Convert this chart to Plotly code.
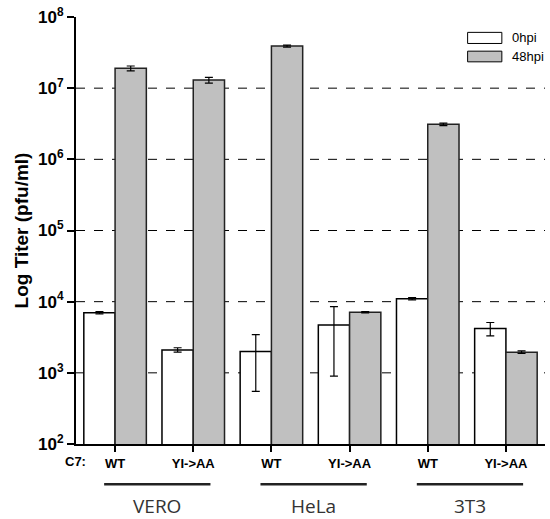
import plotly.graph_objects as go

categories = ["VERO WT", "VERO YI->AA", "HeLa WT", "HeLa YI->AA", "3T3 WT", "3T3 YI->AA"]
tick_labels = ["WT", "YI->AA", "WT", "YI->AA", "WT", "YI->AA"]
hpi0 = [7000, 2100, 2000, 4700, 11000, 4200]
hpi0_err = [250, 150, 1450, 3800, 400, 900]
hpi48 = [1.9e7, 1.3e7, 3.9e7, 7100, 3.1e6, 1950]
hpi48_err = [1.5e6, 1.2e6, 1.2e6, 150, 1.2e5, 80]
groups = ["VERO", "HeLa", "3T3"]
group_members = [(0, 1), (2, 3), (4, 5)]
y_ticks = [100, 1000, 1e4, 1e5, 1e6, 1e7, 1e8]
y_ticktext = ["<b>10<sup>2</sup></b>", "<b>10<sup>3</sup></b>", "<b>10<sup>4</sup></b>",
              "<b>10<sup>5</sup></b>", "<b>10<sup>6</sup></b>", "<b>10<sup>7</sup></b>",
              "<b>10<sup>8</sup></b>"]
grid_vals = [1000, 1e4, 1e5, 1e6, 1e7]

fig = go.Figure()
fig.add_trace(go.Bar(
    x=categories, y=hpi0, name="0hpi",
    marker=dict(color="white", line=dict(color="black", width=1.5)),
    error_y=dict(type="data", array=hpi0_err, color="black", thickness=1.2, width=4),
    showlegend=False,
))
fig.add_trace(go.Bar(
    x=categories, y=hpi48, name="48hpi",
    marker=dict(color="#c0c0c0", line=dict(color="#222222", width=1.5)),
    error_y=dict(type="data", array=hpi48_err, color="black", thickness=1.2, width=4),
    showlegend=False,
))

shapes = []
for g in grid_vals:
    shapes.append(dict(type="line", xref="paper", yref="y", x0=0, x1=1, y0=g, y1=g,
                       line=dict(color="black", width=1, dash="dash"), layer="below"))
# group underlines
for (a, b) in group_members:
    shapes.append(dict(type="line", xref="x", yref="paper", x0=a - 0.14, x1=b + 0.22,
                       y0=-0.094, y1=-0.094, line=dict(color="#222222", width=2.5)))
# manual legend
shapes.append(dict(type="rect", xref="paper", yref="paper", x0=0.835, x1=0.908, y0=0.938, y1=0.964,
                   line=dict(color="black", width=1), fillcolor="white"))
shapes.append(dict(type="rect", xref="paper", yref="paper", x0=0.835, x1=0.908, y0=0.895, y1=0.920,
                   line=dict(color="black", width=1), fillcolor="#c0c0c0"))

annotations = [
    dict(text="0hpi", xref="paper", yref="paper", x=0.925, y=0.951, xanchor="left", yanchor="middle",
         showarrow=False, font=dict(family="Liberation Sans Narrow, Arial", size=13, color="black")),
    dict(text="48hpi", xref="paper", yref="paper", x=0.925, y=0.907, xanchor="left", yanchor="middle",
         showarrow=False, font=dict(family="Liberation Sans Narrow, Arial", size=13, color="black")),
    dict(text="<b>C7:</b>", xref="paper", yref="paper", x=0.0256, y=-0.041, xanchor="right",
         yanchor="middle", showarrow=False,
         font=dict(family="Liberation Sans Narrow, Arial", size=13, color="black")),
]
for gname, (a, b) in zip(groups, group_members):
    annotations.append(dict(text=gname, xref="x", yref="paper", x=(a + b) / 2 + 0.04, y=-0.145,
                            xanchor="center", yanchor="middle", showarrow=False,
                            font=dict(family="Open Sans", size=19, color="#333333")))

fig.update_layout(
    width=550, height=519,
    margin=dict(l=76, r=5, t=17, b=75),
    plot_bgcolor="white", paper_bgcolor="white",
    barmode="group", bargap=0.2, bargroupgap=0,
    shapes=shapes, annotations=annotations,
    xaxis=dict(
        type="category", categoryorder="array", categoryarray=categories,
        tickvals=categories, ticktext=["<b>%s</b>" % t for t in tick_labels],
        range=[-0.5, 5.5],
        showline=True, linecolor="black", linewidth=2,
        ticks="outside", ticklen=6, tickwidth=1.5, tickcolor="black",
        tickfont=dict(family="Liberation Sans Narrow, Arial", size=13, color="black"),
        showgrid=False,
    ),
    yaxis=dict(
        type="log", range=[2, 8],
        tickvals=y_ticks, ticktext=y_ticktext,
        showline=True, linecolor="black", linewidth=2,
        ticks="outside", ticklen=7, tickwidth=1.5, tickcolor="black",
        tickfont=dict(family="Liberation Sans, Arial", size=17, color="black"),
        showgrid=False, zeroline=False,
        title=dict(text="<b>Log Titer (pfu/ml)</b>", standoff=4,
                   font=dict(family="Liberation Sans, Arial", size=19, color="black")),
    ),
)

fig.write_html("out.html", config={"displayModeBar": False},
               post_script="document.body.style.margin='0px';document.body.style.overflow='hidden';")
